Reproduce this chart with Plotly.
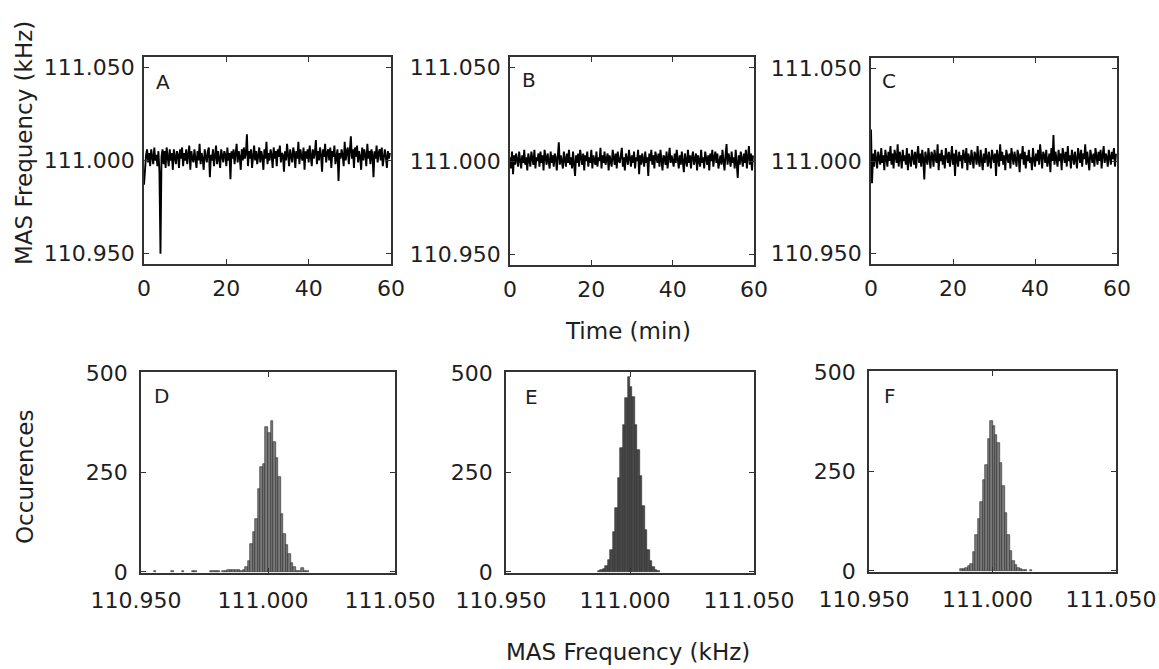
import plotly.graph_objects as go

# ---------------- data ----------------
BASE_KHZ = 111.000          # nominal MAS frequency
SAMPLE_STEP_MIN = 0.25      # sampling interval of the traces (min)

A_DEV_HZ = [
    -13, -4, 3, 6, -1, 4, -3, 6, 1, -2, 7, 0, 3, -3, 5, -6, -50, 2, 6, -2,
    5, -4, 7, 1, -3, 6, 0, 4, -5, 6, 2, -2, 5, 3, -4, 6, 1, 7, -3, 4,
    0, 6, -2, 3, 8, -5, 5, 1, -1, 6, 2, -4, 5, 0, 9, -2, 4, 1, -5, 6,
    2, -1, 5, 7, -9, 3, 0, 6, -3, 4, 8, -2, 5, 1, -4, 6, 2, -1, 5, 3,
    -3, 7, 0, 4, -10, 5, 1, 6, -2, 3, 9, -1, 5, 2, -5, 6, 0, 7, 1, 4,
    14, -3, 5, 1, 6, -4, 4, 8, 0, 5, -2, 3, 7, -1, 5, 2, -5, 6, 1, 10,
    -2, 4, 0, 6, 3, -4, 7, 1, 5, -3, 6, 2, 8, -1, 4, 3, -6, 5, 0, 9,
    2, -3, 6, 3, -1, 7, 4, -4, 5, 1, 10, -2, 6, 2, 0, 7, -5, 5, 1, 6,
    -1, 8, 3, -3, 6, 1, 4, 11, -2, 5, 0, 7, 3, -6, 6, 2, 9, -1, 4, 6,
    0, 7, -4, 5, 2, 8, -2, 3, 6, -11, 4, 1, 6, 3, -3, 10, 0, 5, 7, -2,
    4, 13, 1, 6, -4, 7, 2, 8, -1, 5, 2, -5, 7, 0, 6, 3, -3, 9, 1, 5,
    -2, 6, 3, -9, 5, 1, 8, -1, 4, 6, 0, 7, -3, 3, 6, 2, -4, 5, 1, 4,
]
B_DEV_HZ = [
    2, -4, 5, -7, 3, -2, 4, 0, -3, 5, 1, -4, 3, -1, 6, -2, 2, -5, 4, 0,
    -3, 5, 1, -2, 6, -4, 2, 0, 4, -3, 5, -1, 3, -5, 6, 1, -2, 4, 0, -4,
    5, -1, 3, -3, 4, 2, -5, 6, 10, -2, 3, 0, -4, 5, 1, -3, 4, -1, 6, -2,
    2, -4, 5, 0, -8, 3, -1, 4, -3, 6, 1, -2, 4, -5, 3, 0, 5, -3, 2, -1,
    6, -4, 3, 1, -2, 5, -3, 2, 0, 7, -4, 3, -1, 5, -2, 1, 4, -5, 3, 0,
    -3, 6, 1, -2, 4, -4, 5, 0, -1, 3, 7, -3, 2, -5, 4, 1, -2, 6, 0, -3,
    3, -1, 5, -4, 2, 0, 6, -7, 3, -2, 4, 1, -3, 5, -1, 2, -8, 4, 0, 6,
    -2, 3, -4, 5, 1, -1, 4, -3, 6, 0, -5, 3, 2, -2, 5, -4, 1, 7, -1, 3,
    0, -3, 4, -1, 6, 2, -4, 3, -2, 5, 0, -6, 4, 1, -3, 6, -1, 3, -4, 2,
    5, -2, 1, 4, -5, 3, 0, -3, 6, -1, 2, -4, 5, 1, -2, 3, -5, 4, 0, 6,
    -3, 2, 5, -1, 4, -4, 1, 3, -2, 6, 0, -5, 3, 9, -2, 4, 1, -3, 5, -1,
    2, -4, 6, 0, -9, 3, -2, 5, 1, -3, 4, -1, 6, -4, 2, 8, -2, 4, -5, 3,
]
C_DEV_HZ = [
    17, -12, 4, -3, 6, 0, -4, 5, 2, -2, 7, -1, 3, -5, 6, 1, -3, 5, 0, 8,
    -2, 4, -4, 6, 1, -1, 9, -3, 5, 2, -4, 6, 0, 3, -2, 7, -5, 4, 1, -3,
    6, 0, -2, 5, -4, 3, 8, -1, 4, -3, 6, 1, -10, 5, 2, -2, 7, 0, -4, 5,
    3, -3, 6, 1, -1, 9, -5, 4, 0, 6, -2, 3, -4, 7, 1, -1, 5, -3, 2, 8,
    -2, 4, -8, 6, 1, -3, 5, 0, 3, -4, 6, 2, -1, 7, -5, 4, 0, -2, 6, 1,
    -4, 5, 3, -2, 8, 0, -3, 6, 1, -5, 4, -1, 7, 2, -3, 5, 0, -4, 6, 3,
    -1, 4, -8, 6, 1, -3, 9, 0, 5, -2, 3, -5, 6, 1, -1, 4, -4, 7, 2, -2,
    5, 0, -3, 6, 3, -6, 4, 1, 8, -2, 5, -4, 3, 0, 6, -1, 2, -5, 7, 1,
    -3, 4, 0, 6, -2, 9, 1, -4, 5, 3, -1, 6, -3, 2, 4, -6, 7, 0, 14, -2,
    5, 1, -3, 6, 0, 4, -5, 7, 2, -1, 5, -3, 8, 0, 3, -4, 6, 1, -2, 5,
    0, -4, 7, 2, -1, 6, -3, 4, 1, 9, -2, 5, 0, -5, 6, 3, -1, 4, -3, 7,
    1, -2, 5, 0, 6, -4, 3, 8, -1, 4, 2, -3, 6, 0, -2, 5, 1, 7, -3, 4,
]

# histograms: bin left edges (kHz) and occurrences, bin width 0.001 kHz
BIN_WIDTH_KHZ = 0.001
D_BIN_LEFT = [110.955, 110.962, 110.966, 110.970, 110.971, 110.977, 110.978,
              110.979, 110.980, 110.982, 110.983, 110.984, 110.985, 110.986,
              110.987, 110.988,
              110.989, 110.990, 110.991, 110.992, 110.993, 110.994, 110.995,
              110.996, 110.997, 110.998, 110.999, 111.000, 111.001, 111.002,
              111.003, 111.004, 111.005, 111.006, 111.007, 111.008, 111.009,
              111.010, 111.011, 111.012, 111.013, 111.014, 111.015]
D_COUNTS = [3, 3, 3, 3, 3, 3, 3, 3, 3, 3, 3, 4, 4, 4, 5, 5,
            3, 5, 12, 26, 71, 101, 133, 207, 263, 271, 365, 350, 380, 327,
            287, 237, 146, 94, 67, 44, 23, 12, 3, 3, 9, 3, 1]
E_BIN_LEFT = [110.987, 110.988, 110.989, 110.990, 110.991, 110.992, 110.993,
              110.994, 110.995, 110.996, 110.997, 110.998, 110.999, 111.000,
              111.001, 111.002, 111.003, 111.004, 111.005, 111.006, 111.007,
              111.008, 111.009, 111.010, 111.011]
E_COUNTS = [2, 4, 8, 15, 30, 55, 100, 160, 235, 310, 370, 437, 490, 465,
            440, 370, 305, 240, 165, 105, 55, 28, 12, 5, 2]
F_BIN_LEFT = [110.987, 110.988, 110.989, 110.990, 110.991, 110.992, 110.993,
              110.994, 110.995, 110.996, 110.997, 110.998, 110.999, 111.000,
              111.001, 111.002, 111.003, 111.004, 111.005, 111.006, 111.007,
              111.008, 111.009, 111.010, 111.011, 111.012, 111.013, 111.015]
F_COUNTS = [4, 5, 7, 12, 18, 47, 90, 130, 173, 229, 266, 332, 376, 365,
            340, 322, 270, 212, 146, 90, 50, 25, 15, 8, 5, 3, 2, 3]

PANEL_LABELS = ["A", "B", "C", "D", "E", "F"]
FREQ_TICKS = [110.950, 111.000, 111.050]
TIME_TICKS = [0, 20, 40, 60]
COUNT_TICKS = [0, 250, 500]

# ---------------- figure ----------------
W, H = 1159, 669
FONT = "DejaVu Sans"
TXT = "#1e1e1e"
FRAME = "#333333"

def dx(px):
    return px / W

def dy(py):
    return 1 - py / H

# axis frames in pixels: (left, right, top, bottom)
frames = [
    (144, 391, 57, 264),
    (510, 754, 57, 265),
    (871, 1117, 58, 264),
    (141, 395, 372, 573),
    (506, 754, 372, 573),
    (869, 1116, 371, 572),
]

fig = go.Figure()

series = [A_DEV_HZ, B_DEV_HZ, C_DEV_HZ]
for k, dev in enumerate(series):
    t = [i * SAMPLE_STEP_MIN for i in range(len(dev))]
    f = [BASE_KHZ + v / 1000.0 for v in dev]
    ax = "" if k == 0 else str(k + 1)
    fig.add_trace(go.Scatter(x=t, y=f, mode="lines",
                             line=dict(color="black", width=1.9),
                             xaxis="x" + ax, yaxis="y" + ax,
                             showlegend=False, hoverinfo="skip"))

hists = [(D_BIN_LEFT, D_COUNTS, "#7a7a7a"),
         (E_BIN_LEFT, E_COUNTS, "#4a4a4a"),
         (F_BIN_LEFT, F_COUNTS, "#7a7a7a")]
for k, (edges, counts, col) in enumerate(hists):
    centers = [e + BIN_WIDTH_KHZ / 2 for e in edges]
    ax = str(k + 4)
    fig.add_trace(go.Bar(x=centers, y=counts, width=BIN_WIDTH_KHZ,
                         marker=dict(color=col, line=dict(color="#2a2a2a", width=0.6)),
                         xaxis="x" + ax, yaxis="y" + ax,
                         showlegend=False, hoverinfo="skip"))

common = dict(showline=True, linecolor=FRAME, linewidth=1.5, mirror="ticks",
              ticks="inside", ticklen=5, tickcolor=FRAME, tickwidth=1,
              showgrid=False, zeroline=False, automargin=False,
              tickfont=dict(family=FONT, size=22, color=TXT))

layout = dict(width=W, height=H, margin=dict(l=0, r=0, t=0, b=0, autoexpand=False),
              template="none",
              paper_bgcolor="white", plot_bgcolor="white", bargap=0,
              font=dict(family=FONT, color=TXT))

for k, (l, r, t_, b) in enumerate(frames):
    n = "" if k == 0 else str(k + 1)
    xa = dict(common, domain=[dx(l), dx(r)], anchor="y" + n)
    ya = dict(common, domain=[dy(b), dy(t_)], anchor="x" + n)
    if k < 3:
        xa.update(range=[0, 60], tickvals=TIME_TICKS, ticklabelstandoff=4)
        ya.update(range=[110.9445, 111.0555], tickvals=FREQ_TICKS,
                  tickformat=".3f", ticklabelstandoff=3)
    else:
        xa.update(range=[110.95, 111.05], tickvals=FREQ_TICKS,
                  tickformat=".3f", ticklabelstandoff=7, ticklabelshift=-5)
        ya.update(range=[-3, 502], tickvals=COUNT_TICKS, ticklabelstandoff=7)
    layout["xaxis" + n] = xa
    layout["yaxis" + n] = ya

fig.update_layout(**layout)

# panel letters
letter_pos = [(163, 82), (529, 80), (889, 81), (161, 396), (531, 397), (890, 396)]
for lab, (px, py) in zip(PANEL_LABELS, letter_pos):
    fig.add_annotation(x=dx(px), y=dy(py), xref="paper", yref="paper",
                       text=lab, showarrow=False, xanchor="center", yanchor="middle",
                       font=dict(family=FONT, size=20, color=TXT))

# axis titles
titles = [
    ("MAS Frequency (kHz)", 24, 143, -90),
    ("Time (min)", 628, 331, 0),
    ("Occurences", 25, 477, -90),
    ("MAS Frequency (kHz)", 628, 652, 0),
]
for text, px, py, ang in titles:
    fig.add_annotation(x=dx(px), y=dy(py), xref="paper", yref="paper",
                       text=text, showarrow=False, textangle=ang,
                       xanchor="center", yanchor="middle",
                       font=dict(family=FONT, size=23, color=TXT))

fig.write_html("out.html",
               config={"displayModeBar": False},
               post_script="document.body.style.margin='0';"
                           "document.body.style.overflow='hidden';")
